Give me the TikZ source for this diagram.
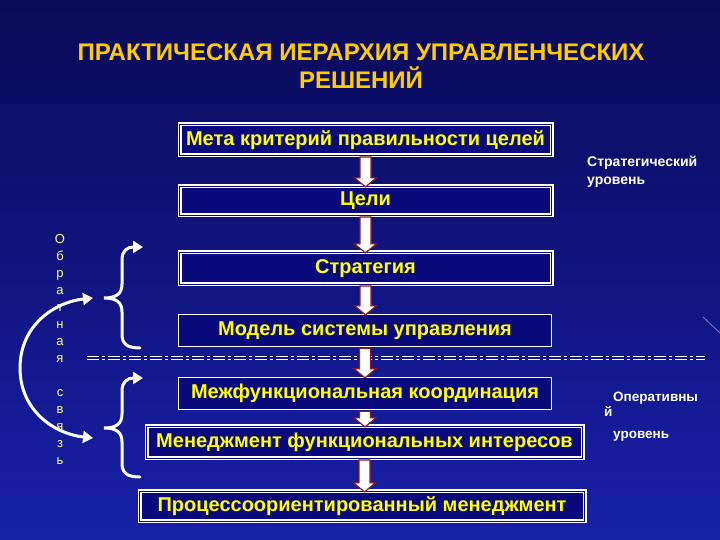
\documentclass[tikz,border=0pt]{standalone}
\usepackage{fontspec}
\setmainfont{Liberation Sans}
\usetikzlibrary{arrows.meta,calc}
\definecolor{bgtop}{HTML}{0A0A58}
\definecolor{bgmid}{HTML}{101092}
\definecolor{bgbot}{HTML}{1820A8}
\definecolor{boxfill}{HTML}{0A0A7C}
\definecolor{ytext}{HTML}{FFFF00}
\definecolor{gold}{HTML}{FFCC00}
\definecolor{arrred}{HTML}{8E1A1A}
\definecolor{lyellow}{HTML}{FFFF88}
\definecolor{streak}{HTML}{9070C0}
\newcommand\blockarrow[2]{%
  \draw[downarr] let \p1=(#1.south), \p2=(#2.north) in
    (\x1-5.5pt,\y1-1pt) -- (\x1+5.5pt,\y1-1pt) -- (\x1+5.5pt,\y2+8pt) -- (\x1+11pt,\y2+8pt)
    -- (\x1,\y2-1pt) -- (\x1-11pt,\y2+8pt) -- (\x1-5.5pt,\y2+8pt) -- cycle;}
\tikzset{
  lvl/.style={draw=white, fill=boxfill, text=ytext, font=\fontsize{20}{22}\selectfont\bfseries, inner sep=0pt, anchor=center},
  dbl/.style={lvl, double=boxfill, double distance=1.6pt, line width=1.2pt},
  sgl/.style={lvl, line width=1.4pt},
  downarr/.style={draw=arrred, fill=white, line width=1.2pt, line join=miter},
  brace/.style={draw=white, line width=3pt, line cap=round},
  whitetip/.style={-{Triangle[length=10pt,width=12pt]}},
  sidelabel/.style={text=white, font=\fontsize{14}{18}\selectfont\bfseries, inner sep=0pt, align=left},
  sepline/.style={draw=white, line width=1.3pt, dash pattern=on 12pt off 3pt on 3pt off 3pt}
}
\begin{document}
\begin{tikzpicture}[x=1pt,y=1pt]
\useasboundingbox (0,0) rectangle (720,540);
\shade[top color=bgtop, middle color=bgmid, bottom color=bgbot] (0,0) rectangle (720,540);
\draw[streak, line width=0.8pt] (703,223) -- (720,207);

% title
\node[text=gold, font=\fontsize{24}{28}\selectfont\bfseries, align=center, inner sep=0pt] (title) at (361,474)
  {ПРАКТИЧЕСКАЯ ИЕРАРХИЯ УПРАВЛЕНЧЕСКИХ\\РЕШЕНИЙ};

% separator line
\coordinate (dlL) at (87,182);
\coordinate (dlR) at (705,182);
\draw[sepline] ([yshift=1.3pt]dlL) -- ([yshift=1.3pt]dlR);
\draw[sepline] ([yshift=-1.3pt]dlL) -- ([yshift=-1.3pt]dlR);

% levels
\node[dbl, minimum width=372pt, minimum height=31pt] (b1) at (365.5,400) {Мета критерий правильности целей};
\node[dbl, minimum width=372pt, minimum height=29pt] (b2) at (365.5,339) {Цели};
\node[dbl, minimum width=372pt, minimum height=32pt] (b3) at (365.5,271.5) {Стратегия};
\node[sgl, minimum width=373pt, minimum height=32pt] (b4) at (365,209.5) {Модель системы управления};
\node[sgl, minimum width=373pt, minimum height=32pt] (b5) at (365,146.5) {Межфункциональная координация};
\node[dbl, minimum width=436pt, minimum height=32pt] (b6) at (364.5,97.5) {Менеджмент функциональных интересов};
\node[dbl, minimum width=445pt, minimum height=30pt] (b7) at (362,33.5) {Процессоориентированный менеджмент};

\blockarrow{b1}{b2}
\blockarrow{b2}{b3}
\blockarrow{b3}{b4}
\blockarrow{b4}{b5}
\blockarrow{b5}{b6}
\blockarrow{b6}{b7}

% side labels
\node[sidelabel, anchor=north west] (strat) at (587,384) {Стратегический\\уровень};
\node[sidelabel, anchor=north west, font=\fontsize{13.5}{15}\selectfont\bfseries] (oper) at (604,148)
  {\hspace{9pt}Оперативны\\й\\[7pt]\hspace{9pt}уровень};

% vertical feedback text
\node[text=lyellow, font=\fontsize{13}{17}\selectfont, align=center, inner sep=0pt] (fbtext) at (60,191)
  {О\\б\\р\\а\\т\\н\\а\\я\\[17pt]с\\в\\я\\з\\ь};

% braces
\coordinate (ubB) at (140,192);
\coordinate (ubTip) at (104,242);
\coordinate (ubT) at (143,293);
\draw[brace, whitetip] (ubB) .. controls (127,192) and (122,196) .. (122,206) -- (122,228)
  .. controls (122,238) and (116,242) .. (ubTip)
  .. controls (116,242) and (122,246) .. (122,256) -- (122,280)
  .. controls (122,289) and (127,293) .. (ubT);
\coordinate (lbB) at (140,63);
\coordinate (lbTip) at (104,112);
\coordinate (lbT) at (143,162);
\draw[brace, whitetip] (lbB) .. controls (127,63) and (122,67) .. (122,77) -- (122,98)
  .. controls (122,108) and (116,112) .. (lbTip)
  .. controls (116,112) and (122,116) .. (122,126) -- (122,149)
  .. controls (122,158) and (127,162) .. (lbT);

% feedback arc
\coordinate (fbT) at (93,242);
\coordinate (fbB) at (93,102);
\draw[white, line width=3pt, {Triangle[length=10pt,width=12pt]}-{Triangle[length=10pt,width=12pt]}]
  (fbT) .. controls (55,238) and (20,215) .. (20,172) .. controls (20,129) and (55,106) .. (fbB);
\end{tikzpicture}
\end{document}
